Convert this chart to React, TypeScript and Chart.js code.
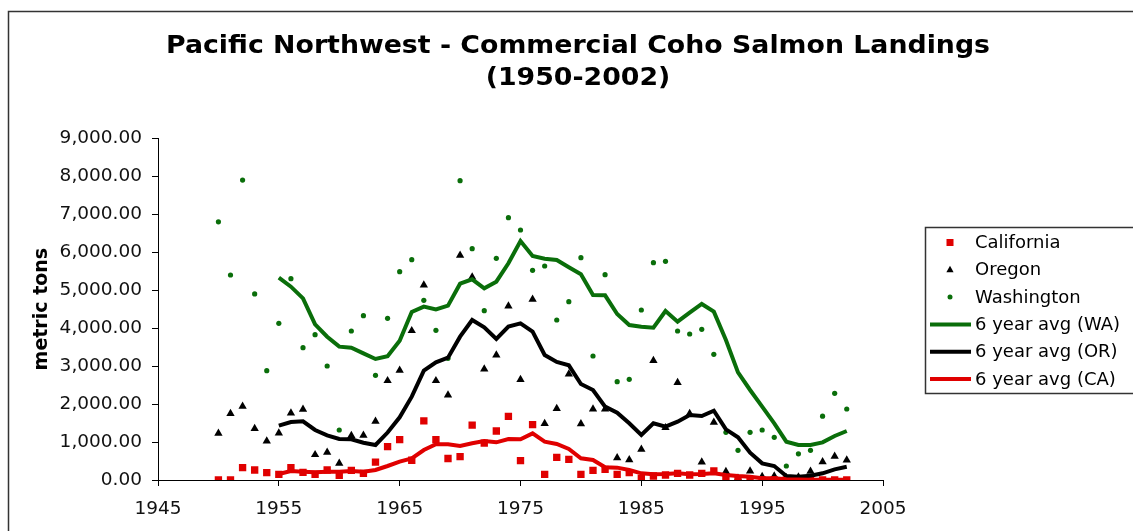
import React, { useEffect, useRef } from 'react';
import { Chart, registerables } from 'chart.js';

Chart.register(...registerables);

const TITLE_LINES = ['Pacific Northwest - Commercial Coho Salmon Landings', '(1950-2002)'];
const Y_TITLE = 'metric tons';

const YEARS = [
  1950, 1951, 1952, 1953, 1954, 1955, 1956, 1957, 1958, 1959,
  1960, 1961, 1962, 1963, 1964, 1965, 1966, 1967, 1968, 1969,
  1970, 1971, 1972, 1973, 1974, 1975, 1976, 1977, 1978, 1979,
  1980, 1981, 1982, 1983, 1984, 1985, 1986, 1987, 1988, 1989,
  1990, 1991, 1992, 1993, 1994, 1995, 1996, 1997, 1998, 1999,
  2000, 2001, 2002,
];

const CALIFORNIA = [
  0, 0, 325, 263, 193, 149, 325, 202, 149, 263,
  123, 255, 176, 470, 878, 1065, 520, 1558, 1065, 565,
  615, 1445, 970, 1291, 1677, 509, 1457, 149, 597, 544,
  149, 255, 281, 149, 193, 44, 105, 132, 176, 132,
  176, 240, 18, 10, 10, 5, 5, 5, 5, 5,
  5, 5, 5,
];

const OREGON = [
  1229, 1747, 1940, 1352, 1027, 1238, 1765, 1861, 667, 729,
  439, 1168, 1177, 1545, 2616, 2889, 3933, 5136, 2616, 2239,
  5918, 5347, 2920, 3293, 4583, 2643, 4759, 1484, 1879, 2792,
  1480, 1870, 1870, 585, 530, 808, 3143, 1378, 2564, 1747,
  470, 1520, 220, 45, 237, 88, 105, 60, 80, 230,
  478, 625, 527,
];

const WASHINGTON = [
  6800, 5400, 7900, 4900, 2880, 4127, 5303, 3486, 3828, 3003,
  1317, 3925, 4329, 2757, 4258, 5488, 5804, 4732, 3942, 3205,
  7884, 6093, 4460, 5839, 6910, 6585, 5523, 5637, 4214, 4697,
  5856, 3266, 5408, 2590, 2652, 4478, 5725, 5760, 3925, 3846,
  3969, 3310, 1256, 782, 1256, 1317, 1124, 369, 690, 782,
  1680, 2283, 1870,
];

const AVG_YEARS = [
  1955, 1956, 1957, 1958, 1959, 1960, 1961, 1962, 1963, 1964,
  1965, 1966, 1967, 1968, 1969, 1970, 1971, 1972, 1973, 1974,
  1975, 1976, 1977, 1978, 1979, 1980, 1981, 1982, 1983, 1984,
  1985, 1986, 1987, 1988, 1989, 1990, 1991, 1992, 1993, 1994,
  1995, 1996, 1997, 1998, 1999, 2000, 2001, 2002,
];

const AVG_WA = [
  5329, 5092, 4785, 4100, 3775, 3512, 3486, 3336, 3187, 3260,
  3670, 4425, 4566, 4495, 4592, 5171, 5286, 5049, 5224, 5707,
  6295, 5900, 5830, 5795, 5602, 5417, 4873, 4864, 4372, 4083,
  4039, 4012, 4451, 4171, 4408, 4636, 4434, 3688, 2836, 2371,
  1932, 1493, 1010, 922, 922, 992, 1159, 1291,
];

const AVG_OR = [
  1431, 1528, 1545, 1317, 1177, 1080, 1071, 983, 922, 1250,
  1650, 2195, 2880, 3099, 3222, 3775, 4214, 4021, 3714, 4039,
  4127, 3907, 3293, 3108, 3020, 2529, 2371, 1932, 1774, 1493,
  1185, 1493, 1405, 1537, 1712, 1686, 1826, 1335, 1124, 720,
  439, 369, 105, 88, 114, 176, 281, 351,
];

const AVG_CA = [
  158, 237, 220, 202, 220, 220, 237, 220, 263, 369,
  483, 571, 790, 940, 940, 896, 966, 1027, 992, 1080,
  1071, 1229, 1010, 948, 817, 571, 527, 334, 325, 263,
  176, 149, 158, 176, 149, 158, 176, 132, 105, 88,
  44, 44, 18, 10, 5, 5, 5, 5,
];

const X_TICKS = [1945, 1955, 1965, 1975, 1985, 1995, 2005];

const RED = '#e00000';
const GREEN = '#0a6e0a';
const BLACK = '#000000';

const pts = (xs: number[], ys: number[]) => xs.map((x, i) => ({ x, y: ys[i] }));

type LegendItem = { label: string; kind: 'rect' | 'triangle' | 'circle' | 'line'; color: string };
const LEGEND_ITEMS: LegendItem[] = [
  { label: 'California', kind: 'rect', color: RED },
  { label: 'Oregon', kind: 'triangle', color: BLACK },
  { label: 'Washington', kind: 'circle', color: GREEN },
  { label: '6 year avg (WA)', kind: 'line', color: GREEN },
  { label: '6 year avg (OR)', kind: 'line', color: BLACK },
  { label: '6 year avg (CA)', kind: 'line', color: RED },
];

const FONT = '"DejaVu Sans", Verdana, sans-serif';

function stretchedText(ctx: CanvasRenderingContext2D, text: string, cx: number, cy: number, targetWidth: number) {
  const w = ctx.measureText(text).width;
  const sx = w > 0 ? targetWidth / w : 1;
  ctx.save();
  ctx.translate(cx, cy);
  ctx.scale(sx, 1);
  ctx.fillText(text, 0, 0);
  ctx.restore();
}

const decorPlugin = {
  id: 'decor',
  beforeDraw(chart: any) {
    const ctx = chart.ctx as CanvasRenderingContext2D;
    ctx.save();
    ctx.fillStyle = '#ffffff';
    ctx.fillRect(0, 0, chart.width, chart.height);
    ctx.strokeStyle = '#333333';
    ctx.lineWidth = 1.5;
    ctx.strokeRect(8.5, 11.5, chart.width + 40, chart.height + 40);
    ctx.fillStyle = '#000000';
    ctx.font = `bold 25px ${FONT}`;
    ctx.textAlign = 'center';
    ctx.textBaseline = 'middle';
    stretchedText(ctx, TITLE_LINES[0], 578, 46, 824);
    const w0 = ctx.measureText(TITLE_LINES[0]).width;
    const w1 = ctx.measureText(TITLE_LINES[1]).width;
    stretchedText(ctx, TITLE_LINES[1], 578, 78, w1 * (824 / w0));
    ctx.restore();
  },
  afterDraw(chart: any) {
    const ctx = chart.ctx as CanvasRenderingContext2D;
    ctx.save();
    const left = 925.5;
    const top = 227.5;
    ctx.strokeStyle = '#333333';
    ctx.lineWidth = 1.5;
    ctx.strokeRect(left, top, 400, 166);
    ctx.font = `18px ${FONT}`;
    ctx.textAlign = 'left';
    ctx.textBaseline = 'middle';
    LEGEND_ITEMS.forEach((item, i) => {
      const y = 242.5 + i * 27.3;
      const mx = 950;
      ctx.fillStyle = item.color;
      ctx.strokeStyle = item.color;
      if (item.kind === 'rect') {
        ctx.fillRect(mx - 3.5, y - 3.5, 7, 7);
      } else if (item.kind === 'triangle') {
        ctx.beginPath();
        ctx.moveTo(mx, y - 4);
        ctx.lineTo(mx + 3.6, y + 2.5);
        ctx.lineTo(mx - 3.6, y + 2.5);
        ctx.closePath();
        ctx.fill();
      } else if (item.kind === 'circle') {
        ctx.beginPath();
        ctx.arc(mx, y, 2.5, 0, Math.PI * 2);
        ctx.fill();
      } else {
        ctx.lineWidth = 4;
        ctx.beginPath();
        ctx.moveTo(930, y);
        ctx.lineTo(971, y);
        ctx.stroke();
      }
      ctx.fillStyle = '#000000';
      ctx.fillText(item.label, 975, y + 1);
    });
    ctx.restore();
  },
};

export default function App() {
  const canvasRef = useRef<HTMLCanvasElement | null>(null);

  useEffect(() => {
    const canvas = canvasRef.current;
    if (!canvas) return;
    Chart.defaults.font.family = FONT;
    const chart = new Chart(canvas, {
      type: 'scatter',
      data: {
        datasets: [
          {
            label: '6 year avg (CA)',
            data: pts(AVG_YEARS, AVG_CA),
            showLine: true,
            borderColor: RED,
            backgroundColor: RED,
            borderWidth: 4,
            pointRadius: 0,
            tension: 0,
            order: 0,
          },
          {
            label: '6 year avg (OR)',
            data: pts(AVG_YEARS, AVG_OR),
            showLine: true,
            borderColor: BLACK,
            backgroundColor: BLACK,
            borderWidth: 4,
            pointRadius: 0,
            tension: 0,
            order: 1,
          },
          {
            label: '6 year avg (WA)',
            data: pts(AVG_YEARS, AVG_WA),
            showLine: true,
            borderColor: GREEN,
            backgroundColor: GREEN,
            borderWidth: 4,
            pointRadius: 0,
            tension: 0,
            order: 2,
          },
          {
            label: 'California',
            data: pts(YEARS, CALIFORNIA),
            pointStyle: 'rect',
            pointRadius: 5.2,
            borderWidth: 0,
            backgroundColor: RED,
            borderColor: RED,
            order: 3,
          },
          {
            label: 'Oregon',
            data: pts(YEARS, OREGON),
            pointStyle: 'triangle',
            pointRadius: 4.8,
            borderWidth: 0,
            backgroundColor: BLACK,
            borderColor: BLACK,
            order: 4,
          },
          {
            label: 'Washington',
            data: pts(YEARS, WASHINGTON),
            pointStyle: 'circle',
            pointRadius: 2.6,
            borderWidth: 0,
            backgroundColor: GREEN,
            borderColor: GREEN,
            order: 5,
          },
        ],
      },
      options: {
        animation: false,
        responsive: false,
        devicePixelRatio: 1,
        layout: { padding: { top: 138.3, right: 250, bottom: 0, left: 0 } },
        plugins: {
          legend: { display: false },
          title: { display: false },
          tooltip: { enabled: false },
        },
        scales: {
          x: {
            type: 'linear',
            min: 1945,
            max: 2005,
            afterBuildTicks: (scale: any) => {
              scale.ticks = X_TICKS.map((v) => ({ value: v }));
            },
            afterFit: (scale: any) => {
              scale.height = 51;
            },
            ticks: {
              color: '#111111',
              font: { size: 18.5 },
              padding: 12,
              maxRotation: 0,
              callback: (v: any) => String(v),
            },
            grid: {
              drawOnChartArea: false,
              drawTicks: true,
              tickLength: 6,
              color: '#000000',
            },
            border: { display: true, color: '#000000', width: 1 },
          },
          y: {
            min: 0,
            max: 9000,
            afterFit: (scale: any) => {
              scale.width = 158;
            },
            ticks: {
              stepSize: 1000,
              color: '#111111',
              font: { size: 18.5 },
              padding: 10,
              callback: (v: any) =>
                Number(v).toLocaleString('en-US', { minimumFractionDigits: 2, maximumFractionDigits: 2 }),
            },
            grid: {
              drawOnChartArea: false,
              drawTicks: true,
              tickLength: 6,
              color: '#000000',
            },
            border: { display: true, color: '#000000', width: 1 },
            title: {
              display: true,
              text: Y_TITLE,
              color: '#000000',
              font: { size: 19, weight: 'bold' },
              padding: { top: 30.6, bottom: 0 },
            },
          },
        },
      },
      plugins: [decorPlugin],
    } as any);
    return () => chart.destroy();
  }, []);

  return (
    <div style={{ position: 'fixed', left: 0, top: 0, width: 1133, height: 531, background: '#fff' }}>
      <canvas ref={canvasRef} width={1133} height={531} style={{ display: 'block' }} />
    </div>
  );
}
